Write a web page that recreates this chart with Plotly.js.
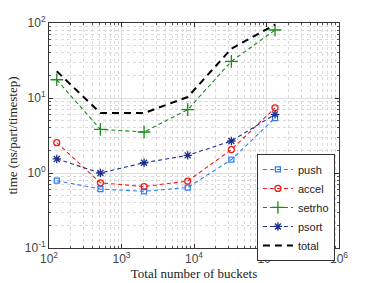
<!DOCTYPE html>
<html><head><meta charset="utf-8">
<script src="https://cdn.plot.ly/plotly-3.0.1.min.js"></script>
<style>html,body{margin:0;padding:0;background:#fff}#c{width:374px;height:283px}</style>
</head><body><div id="c"></div>
<script>
const buckets = [128, 512, 2048, 8192, 32768, 131072];
const push   = [0.79, 0.61, 0.57, 0.64, 1.51, 5.4];
const accel  = [2.54, 0.74, 0.66, 0.78, 2.05, 7.4];
const setrho = [17.5, 3.82, 3.52, 7.0, 30.8, 80.7];
const psort  = [1.54, 1.0, 1.37, 1.72, 2.67, 6.05];
const total  = [22.7, 6.3, 6.3, 10.3, 45.5, 95];
const xTickVals = [100, 1000, 10000, 100000, 1000000];
const xTickText = ['10<sup>2</sup>','10<sup>3</sup>','10<sup>4</sup>','10<sup>5</sup>','10<sup>6</sup>'];
const yTickVals = [0.1, 1, 10, 100];
const yTickText = ['10<sup>-1</sup>','10<sup>0</sup>','10<sup>1</sup>','10<sup>2</sup>'];

function s(name, y, color, sym, size, lw, dash, mode){
  return {x: buckets, y: y, name: name, type:'scatter', mode: mode||'lines+markers',
    line:{color:color, width:lw, dash:dash},
    marker:{symbol:sym, size:size, color:color, line:{color:color, width:1.3}}};
}
const data = [
  s('push', push, '#2f7ff0', 'square-open', 5, 1.1, '4px,3px'),
  s('accel', accel, '#ee1c1c', 'circle-open', 6, 1.1, '4px,3px'),
  s('setrho', setrho, '#1a8c1a', 'cross-thin-open', 9, 1.1, '4px,3px'),
  s('psort', psort, '#1f2f8f', 'asterisk-open', 7, 1.1, '4px,3px'),
  {x:buckets, y:total, name:'total', type:'scatter', mode:'lines', line:{color:'#000', width:2, dash:'7px,5px'}}
];
const axisCommon = {type:'log', showline:true, mirror:'ticks', linecolor:'#333', linewidth:1,
  ticks:'inside', ticklen:4, tickcolor:'#333', gridcolor:'#dedede', gridwidth:1, zeroline:false,
  tickfont:{family:'Liberation Sans, Arial', size:12, color:'#444'},
  minor:{dtick:'D1', ticks:'inside', ticklen:2, tickcolor:'#555', showgrid:true, gridcolor:'#dadada', griddash:'dot', gridwidth:1}};
const layout = {
  width:374, height:283, margin:{l:49, r:35, t:23, b:35},
  paper_bgcolor:'#fff', plot_bgcolor:'#fff', showlegend:true,
  xaxis: Object.assign({}, axisCommon, {range:[2,6], tickvals:xTickVals, ticktext:xTickText,
    title:{text:'Total number of buckets', font:{family:'Liberation Serif, Times New Roman', size:13, color:'#222'}, standoff:3}}),
  yaxis: Object.assign({}, axisCommon, {range:[-1,2], tickvals:yTickVals, ticktext:yTickText,
    title:{text:'time (ns/part/timestep)', font:{family:'Liberation Serif, Times New Roman', size:13, color:'#222'}, standoff:4}}),
  legend:{x:0.717, y:0.418, xanchor:'left', yanchor:'top', bgcolor:'#fff', bordercolor:'#333', borderwidth:1,
    font:{family:'Liberation Sans, Arial', size:11, color:'#222'}, tracegroupgap:0, itemwidth:30}
};
Plotly.newPlot('c', data, layout, {displayModeBar:false, staticPlot:true});
</script></body></html>
